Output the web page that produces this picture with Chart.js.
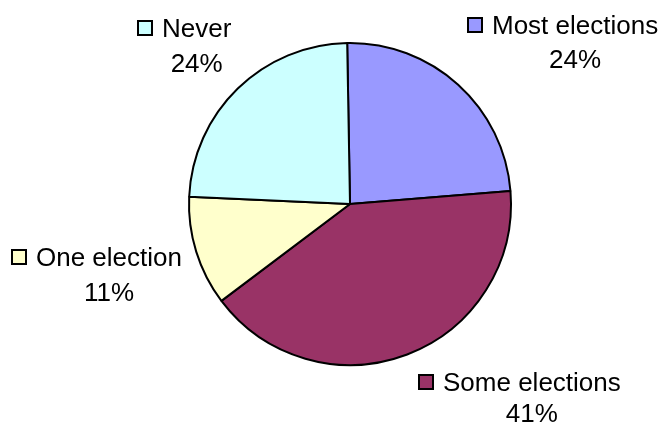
<!DOCTYPE html>
<html>
<head>
<meta charset="utf-8">
<script src="https://cdn.jsdelivr.net/npm/chart.js@4/dist/chart.umd.min.js"></script>
<style>
  html, body { margin: 0; padding: 0; background: #fff; }
  #wrap { width: 662px; height: 424px; }
</style>
</head>
<body>
<div id="wrap"><canvas id="voteChart" width="662" height="424"></canvas></div>
<script>
const categories = ['Most elections', 'Some elections', 'One election', 'Never'];
const shares = [24, 41, 11, 24];
const sliceColors = ['#9999FF', '#993366', '#FFFFCC', '#CCFFFF'];

// left edge of the name text, baseline of the name, baseline of the percentage
const labelSpots = [
  { x: 492, y: 34, y2: 68 },
  { x: 443, y: 391, y2: 422 },
  { x: 36, y: 266, y2: 301 },
  { x: 162, y: 37, y2: 72 }
];

const calloutLabels = {
  id: 'calloutLabels',
  afterDraw(chart) {
    const ctx = chart.ctx;
    ctx.save();
    ctx.font = '26px "Liberation Sans", Arial, sans-serif';
    ctx.textBaseline = 'alphabetic';
    categories.forEach((name, i) => {
      const spot = labelSpots[i];
      const w = ctx.measureText(name).width;
      const box = 14;
      // legend key in front of the name
      ctx.fillStyle = sliceColors[i];
      ctx.fillRect(spot.x - 24, spot.y - 16, box, box);
      ctx.lineWidth = 2;
      ctx.strokeStyle = '#000';
      ctx.strokeRect(spot.x - 24, spot.y - 16, box, box);
      ctx.fillStyle = '#000';
      ctx.textAlign = 'left';
      ctx.fillText(name, spot.x, spot.y);
      ctx.textAlign = 'center';
      ctx.fillText(shares[i] + '%', spot.x + w / 2, spot.y2);
    });
    ctx.restore();
  }
};

new Chart(document.getElementById('voteChart').getContext('2d'), {
  type: 'pie',
  data: {
    labels: categories,
    datasets: [{
      data: shares,
      backgroundColor: sliceColors,
      borderColor: '#000',
      borderWidth: 2
    }]
  },
  options: {
    responsive: false,
    animation: false,
    rotation: -1,
    layout: { padding: { left: 188, right: 150, top: 42, bottom: 58 } },
    plugins: {
      legend: { display: false },
      tooltip: { enabled: false }
    }
  },
  plugins: [calloutLabels]
});
</script>
</body>
</html>
